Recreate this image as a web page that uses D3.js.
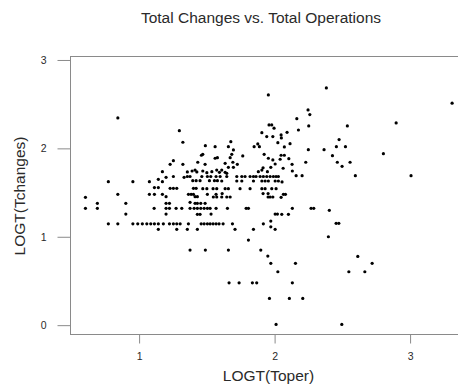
<!DOCTYPE html>
<html>
<head>
<meta charset="utf-8">
<script src="https://cdn.jsdelivr.net/npm/d3@7/dist/d3.min.js"></script>
<style>
  body { margin: 0; background: #fff; }
  svg { display: block; font-family: "Liberation Sans", Arial, sans-serif; }
</style>
</head>
<body>
<svg id="chart" width="458" height="384"></svg>
<script>
// Log-transformed totals per module: operations (x) vs. changes (y)
const toper = [
  2.382,3.310,1.954,2.247,2.260,2.164,0.843,2.897,2.252,2.537,1.959,1.979,1.996,2.176,1.297,2.092,1.906,2.048,1.942,1.987,2.050,2.476,1.677,1.323,2.024,2.114,1.876,1.489,
  1.561,1.659,1.849,1.888,2.072,2.456,2.523,2.249,2.365,1.696,2.803,1.470,1.684,1.923,1.460,2.048,2.072,2.427,1.765,
  1.561,1.578,1.672,1.954,2.041,2.105,1.987,1.253,1.433,1.692,2.230,2.463,2.557,1.635,1.229,1.323,1.487,1.725,2.004,2.129,2.498,1.659,1.696,1.915,1.972,2.063,1.906,1.610,1.573,1.413,
  2.131,1.391,1.470,1.500,1.172,1.356,1.426,1.537,1.593,1.635,1.647,1.880,1.947,2.159,2.203,2.596,3.007,
  1.199,1.253,1.332,1.356,1.376,1.463,1.504,1.529,1.568,1.598,1.647,1.721,1.758,1.782,1.819,1.844,1.863,1.893,1.917,1.942,1.967,1.991,2.011,2.028,
  1.142,
  0.773,0.954,1.076,1.172,1.396,1.421,1.450,1.519,1.556,1.578,1.610,1.721,1.758,1.844,1.906,1.930,1.954,2.004,2.028,2.055,
  1.113,1.142,1.229,1.253,1.278,1.401,1.421,1.470,1.500,1.546,1.573,1.635,1.659,1.745,1.819,1.906,1.930,1.979,2.011,
  0.843,1.076,1.113,1.172,1.364,1.384,1.401,1.504,1.568,1.613,1.915,1.952,2.065,2.080,
  0.604,1.199,1.413,1.430,1.548,1.573,1.610,1.647,1.672,1.952,1.967,1.987,2.048,
  0.692,0.902,1.199,1.224,1.376,1.413,1.430,1.455,1.487,
  0.604,0.692,1.111,1.199,1.224,1.273,1.315,1.376,1.406,1.430,1.455,1.480,1.504,1.524,1.568,1.652,1.790,1.807,2.131,2.269,2.289,
  2.404,
  0.902,1.199,1.430,1.450,1.531,2.004,2.021,2.053,2.102,
  1.972,2.454,2.474,
  0.773,0.843,0.954,0.990,1.024,1.057,1.086,1.113,1.142,1.179,1.224,1.253,1.278,1.303,1.364,1.458,1.480,1.504,1.524,1.546,1.568,1.590,1.620,1.689,1.917,
  1.972,
  1.142,1.278,1.356,1.430,1.708,1.844,2.004,
  2.397,1.807,
  1.376,1.489,1.659,1.898,
  1.950,2.614,
  1.972,2.154,2.720,
  2.024,2.548,2.666,
  1.664,1.738,1.836,1.868,2.131,
  1.962,2.109,2.208,
  2.011,2.496
];
const tchanges = [
  2.684,2.511,2.605,2.435,2.382,2.336,2.344,2.288,2.254,2.254,2.265,2.265,2.228,2.208,2.200,2.182,2.178,2.152,2.133,2.133,2.118,2.099,2.076,2.069,2.065,2.053,2.050,2.031,
  2.019,2.019,2.019,2.019,2.016,2.019,2.019,1.985,1.985,1.982,1.940,1.933,1.933,1.933,1.922,1.922,1.922,1.917,1.914,
  1.888,1.895,1.895,1.888,1.877,1.883,1.869,1.861,1.843,1.843,1.843,1.843,1.843,1.831,1.820,1.820,1.820,1.820,1.823,1.820,1.797,1.786,1.786,1.781,1.786,1.775,1.755,1.755,1.755,1.755,
  1.744,1.744,1.744,1.725,1.736,1.733,1.733,1.736,1.729,1.729,1.718,1.736,1.736,1.691,1.691,1.691,1.691,
  1.673,1.682,1.673,1.682,1.682,1.682,1.682,1.682,1.682,1.682,1.682,1.682,1.682,1.682,1.682,1.682,1.682,1.682,1.682,1.682,1.682,1.682,1.682,1.682,
  1.650,
  1.623,1.623,1.623,1.623,1.634,1.634,1.634,1.634,1.634,1.634,1.631,1.631,1.631,1.631,1.631,1.631,1.631,1.631,1.631,1.620,
  1.556,1.556,1.548,1.548,1.548,1.548,1.548,1.544,1.544,1.544,1.544,1.544,1.544,1.544,1.544,1.544,1.544,1.544,1.544,
  1.480,1.480,1.480,1.480,1.480,1.480,1.480,1.480,1.480,1.489,1.489,1.489,1.480,1.480,
  1.446,1.453,1.453,1.453,1.450,1.450,1.450,1.450,1.450,1.450,1.450,1.450,1.446,
  1.378,1.378,1.378,1.378,1.390,1.378,1.378,1.378,1.378,
  1.322,1.322,1.322,1.322,1.322,1.322,1.322,1.322,1.322,1.322,1.322,1.322,1.322,1.322,1.322,1.322,1.322,1.322,1.322,1.322,1.322,
  1.299,
  1.257,1.257,1.254,1.254,1.257,1.257,1.257,1.254,1.254,
  1.178,1.152,1.152,
  1.146,1.146,1.146,1.146,1.146,1.146,1.146,1.146,1.146,1.146,1.146,1.146,1.146,1.146,1.146,1.146,1.146,1.146,1.146,1.146,1.146,1.146,1.146,1.146,1.146,
  1.113,
  1.084,1.084,1.084,1.084,1.084,1.084,1.084,
  1.000,0.963,
  0.849,0.849,0.849,0.849,
  0.781,0.778,
  0.699,0.699,0.699,
  0.604,0.604,0.604,
  0.479,0.479,0.479,0.479,0.479,
  0.302,0.302,0.302,
  0.008,0.008
];
const xTicks = [1, 2, 3];
const yTicks = [0, 1, 2, 3];
const chartTitle = "Total Changes vs. Total Operations";
const xTitle = "LOGT(Toper)";
const yTitle = "LOGT(Tchanges)";

const points = toper.map((v, i) => ({ x: v, y: tchanges[i] }));

const svg = d3.select("#chart");
const x = d3.scaleLinear().domain([0.49, 3.42]).range([70, 467]);
const y = d3.scaleLinear().domain([-0.1, 3.045]).range([334, 56]);

const axisColor = "#8a8a8a";
const textColor = "#2a2a2a";

// plot frame
svg.append("rect")
  .attr("x", x.range()[0] + 0.5).attr("y", y.range()[1] + 0.5)
  .attr("width", x.range()[1] - x.range()[0])
  .attr("height", y.range()[0] - y.range()[1])
  .attr("fill", "none").attr("stroke", axisColor).attr("stroke-width", 1);

// y axis
const gy = svg.append("g")
  .attr("transform", `translate(${x.range()[0] + 0.5},0)`)
  .call(d3.axisLeft(y).tickValues(yTicks).tickSize(13).tickPadding(11).tickFormat(d3.format("d")));
// x axis
const gx = svg.append("g")
  .attr("transform", `translate(0,${y.range()[0] + 0.5})`)
  .call(d3.axisBottom(x).tickValues(xTicks).tickSize(9).tickPadding(9).tickFormat(d3.format("d")));

[gx, gy].forEach(g => {
  g.select(".domain").remove();
  g.selectAll(".tick line").attr("stroke", axisColor);
  g.selectAll(".tick text")
    .attr("fill", textColor)
    .style("font-family", '"Liberation Sans", Arial, sans-serif')
    .style("font-size", "10.5px");
});

// points
svg.append("g")
  .selectAll("circle")
  .data(points)
  .join("circle")
  .attr("cx", d => x(d.x))
  .attr("cy", d => y(d.y))
  .attr("r", 1.6)
  .attr("fill", "#000");

// titles
svg.append("text")
  .attr("x", 261).attr("y", 23)
  .attr("text-anchor", "middle")
  .attr("fill", textColor)
  .style("font-size", "15.5px")
  .text(chartTitle);

svg.append("text")
  .attr("x", 268.5).attr("y", 381)
  .attr("text-anchor", "middle")
  .attr("fill", textColor)
  .style("font-size", "15.5px")
  .text(xTitle);

svg.append("text")
  .attr("transform", "translate(25,196) rotate(-90)")
  .attr("text-anchor", "middle")
  .attr("fill", textColor)
  .style("font-size", "15.5px")
  .text(yTitle);
</script>
</body>
</html>
